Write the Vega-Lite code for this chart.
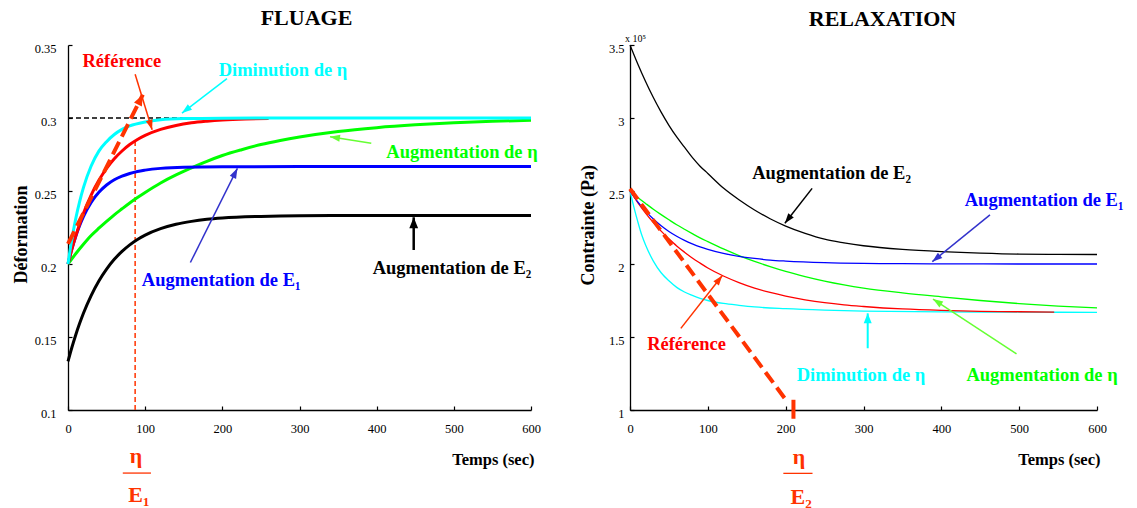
{
  "$schema": "https://vega.github.io/schema/vega-lite/v6.json",
  "background": "white",
  "padding": {"left": 12, "top": 7, "right": 0, "bottom": 0},
  "bounds": "flush",
  "spacing": 99,
  "config": {
    "view": {"stroke": null},
    "font": "Liberation Serif",
    "axis": {"grid": false, "domainColor": "#000000", "domainWidth": 1.3, "tickColor": "#000000", "tickWidth": 1.2, "tickSize": -4, "labelFont": "Liberation Serif", "labelFontSize": 12.5, "labelColor": "#000000", "labelFlush": false, "titleFont": "Liberation Serif", "titleFontWeight": "bold", "titleColor": "#000000"},
    "title": {"font": "Liberation Serif", "fontSize": 22, "fontWeight": "bold", "color": "#000000"},
    "text": {"font": "Liberation Serif", "fontWeight": "bold"}
  },
  "datasets": {
    "creep": [
      {"s": "augE2", "t": 0, "v": 0.1333}, {"s": "augE2", "t": 5, "v": 0.1428}, {"s": "augE2", "t": 10, "v": 0.1514}, {"s": "augE2", "t": 15, "v": 0.1592}, {"s": "augE2", "t": 20, "v": 0.1663}, {"s": "augE2", "t": 30, "v": 0.1784}, {"s": "augE2", "t": 40, "v": 0.1884}, {"s": "augE2", "t": 50, "v": 0.1965}, {"s": "augE2", "t": 60, "v": 0.2032}, {"s": "augE2", "t": 70, "v": 0.2086}, {"s": "augE2", "t": 80, "v": 0.2131}, {"s": "augE2", "t": 90, "v": 0.2168}, {"s": "augE2", "t": 100, "v": 0.2198}, {"s": "augE2", "t": 120, "v": 0.2242}, {"s": "augE2", "t": 140, "v": 0.2272}, {"s": "augE2", "t": 160, "v": 0.2292}, {"s": "augE2", "t": 180, "v": 0.2306}, {"s": "augE2", "t": 200, "v": 0.2315}, {"s": "augE2", "t": 250, "v": 0.2326}, {"s": "augE2", "t": 300, "v": 0.2331}, {"s": "augE2", "t": 400, "v": 0.2333}, {"s": "augE2", "t": 500, "v": 0.2333}, {"s": "augE2", "t": 600, "v": 0.2333},
      {"s": "augEta", "t": 0, "v": 0.2}, {"s": "augEta", "t": 10, "v": 0.207}, {"s": "augEta", "t": 20, "v": 0.2135}, {"s": "augEta", "t": 30, "v": 0.2195}, {"s": "augEta", "t": 40, "v": 0.2245}, {"s": "augEta", "t": 50, "v": 0.2292}, {"s": "augEta", "t": 60, "v": 0.2337}, {"s": "augEta", "t": 70, "v": 0.2378}, {"s": "augEta", "t": 80, "v": 0.2418}, {"s": "augEta", "t": 90, "v": 0.2455}, {"s": "augEta", "t": 100, "v": 0.249}, {"s": "augEta", "t": 120, "v": 0.2555}, {"s": "augEta", "t": 140, "v": 0.261}, {"s": "augEta", "t": 160, "v": 0.2658}, {"s": "augEta", "t": 180, "v": 0.2703}, {"s": "augEta", "t": 200, "v": 0.2743}, {"s": "augEta", "t": 225, "v": 0.2783}, {"s": "augEta", "t": 250, "v": 0.2818}, {"s": "augEta", "t": 275, "v": 0.2846}, {"s": "augEta", "t": 300, "v": 0.287}, {"s": "augEta", "t": 350, "v": 0.2908}, {"s": "augEta", "t": 400, "v": 0.2934}, {"s": "augEta", "t": 450, "v": 0.2953}, {"s": "augEta", "t": 500, "v": 0.2967}, {"s": "augEta", "t": 550, "v": 0.2977}, {"s": "augEta", "t": 600, "v": 0.2985},
      {"s": "augE1", "t": 0, "v": 0.2}, {"s": "augE1", "t": 5, "v": 0.2103}, {"s": "augE1", "t": 10, "v": 0.2189}, {"s": "augE1", "t": 15, "v": 0.2262}, {"s": "augE1", "t": 20, "v": 0.2325}, {"s": "augE1", "t": 30, "v": 0.2422}, {"s": "augE1", "t": 40, "v": 0.2491}, {"s": "augE1", "t": 50, "v": 0.2541}, {"s": "augE1", "t": 60, "v": 0.2577}, {"s": "augE1", "t": 70, "v": 0.2602}, {"s": "augE1", "t": 80, "v": 0.262}, {"s": "augE1", "t": 90, "v": 0.2634}, {"s": "augE1", "t": 100, "v": 0.2643}, {"s": "augE1", "t": 120, "v": 0.2655}, {"s": "augE1", "t": 150, "v": 0.2663}, {"s": "augE1", "t": 200, "v": 0.2666}, {"s": "augE1", "t": 300, "v": 0.2667}, {"s": "augE1", "t": 400, "v": 0.2667}, {"s": "augE1", "t": 500, "v": 0.2667}, {"s": "augE1", "t": 600, "v": 0.2667},
      {"s": "ref", "t": 0, "v": 0.2}, {"s": "ref", "t": 5, "v": 0.2101}, {"s": "ref", "t": 10, "v": 0.2192}, {"s": "ref", "t": 15, "v": 0.2273}, {"s": "ref", "t": 20, "v": 0.2347}, {"s": "ref", "t": 30, "v": 0.2472}, {"s": "ref", "t": 40, "v": 0.2573}, {"s": "ref", "t": 50, "v": 0.2655}, {"s": "ref", "t": 60, "v": 0.2721}, {"s": "ref", "t": 70, "v": 0.2774}, {"s": "ref", "t": 80, "v": 0.2818}, {"s": "ref", "t": 90, "v": 0.2853}, {"s": "ref", "t": 100, "v": 0.2881}, {"s": "ref", "t": 120, "v": 0.2922}, {"s": "ref", "t": 140, "v": 0.2949}, {"s": "ref", "t": 160, "v": 0.2967}, {"s": "ref", "t": 180, "v": 0.2978}, {"s": "ref", "t": 200, "v": 0.2986}, {"s": "ref", "t": 230, "v": 0.2993}, {"s": "ref", "t": 260, "v": 0.2996},
      {"s": "dimEta", "t": 0, "v": 0.2}, {"s": "dimEta", "t": 5, "v": 0.2169}, {"s": "dimEta", "t": 10, "v": 0.231}, {"s": "dimEta", "t": 15, "v": 0.2426}, {"s": "dimEta", "t": 20, "v": 0.2523}, {"s": "dimEta", "t": 30, "v": 0.2671}, {"s": "dimEta", "t": 40, "v": 0.2773}, {"s": "dimEta", "t": 50, "v": 0.2838}, {"s": "dimEta", "t": 60, "v": 0.2887}, {"s": "dimEta", "t": 70, "v": 0.2922}, {"s": "dimEta", "t": 80, "v": 0.2946}, {"s": "dimEta", "t": 100, "v": 0.2973}, {"s": "dimEta", "t": 120, "v": 0.2988}, {"s": "dimEta", "t": 150, "v": 0.2996}, {"s": "dimEta", "t": 200, "v": 0.2999}, {"s": "dimEta", "t": 300, "v": 0.3}, {"s": "dimEta", "t": 400, "v": 0.3}, {"s": "dimEta", "t": 500, "v": 0.3}, {"s": "dimEta", "t": 600, "v": 0.3}
    ],
    "relax": [
      {"s": "augEta", "t": 0, "v": 2.5}, {"s": "augEta", "t": 10, "v": 2.456}, {"s": "augEta", "t": 20, "v": 2.415}, {"s": "augEta", "t": 30, "v": 2.375}, {"s": "augEta", "t": 40, "v": 2.338}, {"s": "augEta", "t": 50, "v": 2.303}, {"s": "augEta", "t": 60, "v": 2.269}, {"s": "augEta", "t": 70, "v": 2.238}, {"s": "augEta", "t": 80, "v": 2.208}, {"s": "augEta", "t": 90, "v": 2.179}, {"s": "augEta", "t": 100, "v": 2.153}, {"s": "augEta", "t": 120, "v": 2.103}, {"s": "augEta", "t": 140, "v": 2.058}, {"s": "augEta", "t": 160, "v": 2.018}, {"s": "augEta", "t": 180, "v": 1.982}, {"s": "augEta", "t": 200, "v": 1.949}, {"s": "augEta", "t": 225, "v": 1.914}, {"s": "augEta", "t": 250, "v": 1.883}, {"s": "augEta", "t": 275, "v": 1.857}, {"s": "augEta", "t": 300, "v": 1.835}, {"s": "augEta", "t": 350, "v": 1.802}, {"s": "augEta", "t": 400, "v": 1.775}, {"s": "augEta", "t": 450, "v": 1.75}, {"s": "augEta", "t": 500, "v": 1.729}, {"s": "augEta", "t": 550, "v": 1.712}, {"s": "augEta", "t": 600, "v": 1.7},
      {"s": "dimEta", "t": 0, "v": 2.5}, {"s": "dimEta", "t": 5, "v": 2.39}, {"s": "dimEta", "t": 10, "v": 2.29}, {"s": "dimEta", "t": 15, "v": 2.2}, {"s": "dimEta", "t": 20, "v": 2.13}, {"s": "dimEta", "t": 30, "v": 2.02}, {"s": "dimEta", "t": 40, "v": 1.94}, {"s": "dimEta", "t": 50, "v": 1.885}, {"s": "dimEta", "t": 60, "v": 1.84}, {"s": "dimEta", "t": 70, "v": 1.808}, {"s": "dimEta", "t": 80, "v": 1.785}, {"s": "dimEta", "t": 90, "v": 1.765}, {"s": "dimEta", "t": 100, "v": 1.75}, {"s": "dimEta", "t": 120, "v": 1.73}, {"s": "dimEta", "t": 140, "v": 1.717}, {"s": "dimEta", "t": 160, "v": 1.706}, {"s": "dimEta", "t": 200, "v": 1.694}, {"s": "dimEta", "t": 250, "v": 1.684}, {"s": "dimEta", "t": 300, "v": 1.677}, {"s": "dimEta", "t": 400, "v": 1.672}, {"s": "dimEta", "t": 500, "v": 1.67}, {"s": "dimEta", "t": 600, "v": 1.669},
      {"s": "ref", "t": 0, "v": 2.5}, {"s": "ref", "t": 10, "v": 2.421}, {"s": "ref", "t": 20, "v": 2.349}, {"s": "ref", "t": 30, "v": 2.284}, {"s": "ref", "t": 40, "v": 2.225}, {"s": "ref", "t": 50, "v": 2.173}, {"s": "ref", "t": 60, "v": 2.124}, {"s": "ref", "t": 70, "v": 2.081}, {"s": "ref", "t": 80, "v": 2.041}, {"s": "ref", "t": 90, "v": 2.006}, {"s": "ref", "t": 100, "v": 1.973}, {"s": "ref", "t": 120, "v": 1.918}, {"s": "ref", "t": 140, "v": 1.873}, {"s": "ref", "t": 160, "v": 1.835}, {"s": "ref", "t": 180, "v": 1.805}, {"s": "ref", "t": 200, "v": 1.78}, {"s": "ref", "t": 225, "v": 1.755}, {"s": "ref", "t": 250, "v": 1.735}, {"s": "ref", "t": 275, "v": 1.72}, {"s": "ref", "t": 300, "v": 1.709}, {"s": "ref", "t": 350, "v": 1.692}, {"s": "ref", "t": 400, "v": 1.682}, {"s": "ref", "t": 450, "v": 1.676}, {"s": "ref", "t": 500, "v": 1.673}, {"s": "ref", "t": 545, "v": 1.671},
      {"s": "augE1", "t": 0, "v": 2.5}, {"s": "augE1", "t": 10, "v": 2.425}, {"s": "augE1", "t": 20, "v": 2.362}, {"s": "augE1", "t": 30, "v": 2.308}, {"s": "augE1", "t": 40, "v": 2.262}, {"s": "augE1", "t": 50, "v": 2.223}, {"s": "augE1", "t": 60, "v": 2.19}, {"s": "augE1", "t": 70, "v": 2.162}, {"s": "augE1", "t": 80, "v": 2.138}, {"s": "augE1", "t": 90, "v": 2.117}, {"s": "augE1", "t": 100, "v": 2.1}, {"s": "augE1", "t": 120, "v": 2.072}, {"s": "augE1", "t": 140, "v": 2.052}, {"s": "augE1", "t": 160, "v": 2.038}, {"s": "augE1", "t": 180, "v": 2.027}, {"s": "augE1", "t": 200, "v": 2.02}, {"s": "augE1", "t": 250, "v": 2.009}, {"s": "augE1", "t": 300, "v": 2.004}, {"s": "augE1", "t": 350, "v": 2.002}, {"s": "augE1", "t": 400, "v": 2.001}, {"s": "augE1", "t": 500, "v": 2.0}, {"s": "augE1", "t": 600, "v": 2.0},
      {"s": "augE2", "t": 0, "v": 3.5}, {"s": "augE2", "t": 10, "v": 3.37}, {"s": "augE2", "t": 20, "v": 3.25}, {"s": "augE2", "t": 30, "v": 3.14}, {"s": "augE2", "t": 40, "v": 3.04}, {"s": "augE2", "t": 50, "v": 2.95}, {"s": "augE2", "t": 60, "v": 2.87}, {"s": "augE2", "t": 70, "v": 2.8}, {"s": "augE2", "t": 80, "v": 2.73}, {"s": "augE2", "t": 90, "v": 2.67}, {"s": "augE2", "t": 100, "v": 2.62}, {"s": "augE2", "t": 120, "v": 2.52}, {"s": "augE2", "t": 140, "v": 2.44}, {"s": "augE2", "t": 160, "v": 2.37}, {"s": "augE2", "t": 180, "v": 2.31}, {"s": "augE2", "t": 200, "v": 2.26}, {"s": "augE2", "t": 225, "v": 2.21}, {"s": "augE2", "t": 250, "v": 2.17}, {"s": "augE2", "t": 275, "v": 2.145}, {"s": "augE2", "t": 300, "v": 2.125}, {"s": "augE2", "t": 350, "v": 2.1}, {"s": "augE2", "t": 400, "v": 2.085}, {"s": "augE2", "t": 450, "v": 2.075}, {"s": "augE2", "t": 500, "v": 2.068}, {"s": "augE2", "t": 550, "v": 2.066}, {"s": "augE2", "t": 600, "v": 2.065}
    ],
    "labelsL": [
      {"s": "ref", "label": "Référence", "t": 69.8, "v": 0.339},
      {"s": "dimEta", "label": "Diminution de η", "t": 278.6, "v": 0.3329},
      {"s": "augEta", "label": "Augmentation de η", "t": 510.6, "v": 0.2767},
      {"s": "augE1", "label": "Augmentation de E₁", "t": 198.5, "v": 0.189},
      {"s": "augE2", "label": "Augmentation de E₂", "t": 497.6, "v": 0.1973}
    ],
    "labelsR": [
      {"s": "augE2", "label": "Augmentation de E₂", "t": 259, "v": 2.621},
      {"s": "augE1", "label": "Augmentation de E₁", "t": 532, "v": 2.438},
      {"s": "ref", "label": "Référence", "t": 72.6, "v": 1.454},
      {"s": "dimEta", "label": "Diminution de η", "t": 296.8, "v": 1.24},
      {"s": "augEta", "label": "Augmentation de η", "t": 529.4, "v": 1.24}
    ]
  },
  "hconcat": [
    {
      "width": 463,
      "height": 365,
      "title": {"text": "FLUAGE", "frame": "group", "dx": 7, "offset": -5, "baseline": "alphabetic"},
      "encoding": {
        "x": {"field": "t", "type": "quantitative", "scale": {"domain": [0, 600], "nice": false, "zero": false},
          "axis": {"title": "Temps (sec)", "values": [0, 100, 200, 300, 400, 500, 600], "format": "d", "labelPadding": 16, "titleFontSize": 16.5, "titleAlign": "right", "titleAnchor": "end", "titleX": 466, "titleY": 49, "titleBaseline": "middle", "titleAngle": 0}},
        "y": {"field": "v", "type": "quantitative", "scale": {"domain": [0.1, 0.35], "nice": false, "zero": false},
          "axis": {"title": "Déformation", "values": [0.1, 0.15, 0.2, 0.25, 0.3, 0.35], "format": "~g", "labelPadding": 16, "labelOffset": 3, "titleFontSize": 18, "titleAngle": 270, "titleAlign": "left", "titleBaseline": "alphabetic", "titleX": -42, "titleY": 238}}
      },
      "layer": [
        {"data": {"values": [{"t": 87, "v": 0.1, "v2": 0.2835}]}, "mark": {"type": "rule", "color": "#FF3300", "strokeWidth": 1.5, "strokeDash": [5, 3]}, "encoding": {"y2": {"field": "v2"}}},
        {"data": {"values": [{"t": 0, "v": 0.3, "t2": 258}]}, "mark": {"type": "rule", "color": "#000000", "strokeWidth": 1.3, "strokeDash": [5, 3]}, "encoding": {"x2": {"field": "t2"}}},
        {"data": {"name": "creep"}, "mark": {"type": "line", "strokeWidth": 3, "interpolate": "monotone"},
          "encoding": {"color": {"field": "s", "type": "nominal", "scale": {"domain": ["ref", "dimEta", "augEta", "augE1", "augE2"], "range": ["#FF0000", "#00FFFF", "#00FF00", "#0000FF", "#000000"]}, "legend": null}}},
        {"data": {"values": [{"t": 0, "v": 0.2138, "t2": 97, "v2": 0.316}]}, "layer": [
          {"mark": {"type": "rule", "color": "#FF3300", "strokeWidth": 4, "strokeDash": [14, 6]}, "encoding": {"x2": {"field": "t2"}, "y2": {"field": "v2"}}},
          {"mark": {"type": "point", "shape": "M0,0L0.4,1L-0.4,1Z", "size": 484, "filled": true, "opacity": 1, "color": "#FF3300", "angle": 26.6}, "encoding": {"x": {"field": "t2", "type": "quantitative"}, "y": {"field": "v2", "type": "quantitative"}}}
        ]},
        {"data": {"values": [{"t": 87, "v": 0.33, "t2": 109, "v2": 0.292}]}, "layer": [
          {"mark": {"type": "rule", "color": "#FF3300", "strokeWidth": 1.5}, "encoding": {"x2": {"field": "t2"}, "y2": {"field": "v2"}}},
          {"mark": {"type": "point", "shape": "M0,0L0.35,1L-0.35,1Z", "size": 400, "filled": true, "opacity": 1, "color": "#FF3300", "angle": 163}, "encoding": {"x": {"field": "t2", "type": "quantitative"}, "y": {"field": "v2", "type": "quantitative"}}}
        ]},
        {"data": {"values": [{"t": 206, "v": 0.327, "t2": 147.7, "v2": 0.3034}]}, "layer": [
          {"mark": {"type": "rule", "color": "#00FFFF", "strokeWidth": 1.5}, "encoding": {"x2": {"field": "t2"}, "y2": {"field": "v2"}}},
          {"mark": {"type": "point", "shape": "M0,0L0.35,1L-0.35,1Z", "size": 400, "filled": true, "opacity": 1, "color": "#00FFFF", "angle": 232.6}, "encoding": {"x": {"field": "t2", "type": "quantitative"}, "y": {"field": "v2", "type": "quantitative"}}}
        ]},
        {"data": {"values": [{"t": 393, "v": 0.2827, "t2": 339.5, "v2": 0.2872}]}, "layer": [
          {"mark": {"type": "rule", "color": "#66FF33", "strokeWidth": 1.5}, "encoding": {"x2": {"field": "t2"}, "y2": {"field": "v2"}}},
          {"mark": {"type": "point", "shape": "M0,0L0.35,1L-0.35,1Z", "size": 400, "filled": true, "opacity": 1, "color": "#66FF33", "angle": 279}, "encoding": {"x": {"field": "t2", "type": "quantitative"}, "y": {"field": "v2", "type": "quantitative"}}}
        ]},
        {"data": {"values": [{"t": 158.6, "v": 0.201, "t2": 219.5, "v2": 0.2655}]}, "layer": [
          {"mark": {"type": "rule", "color": "#3333CC", "strokeWidth": 1.5}, "encoding": {"x2": {"field": "t2"}, "y2": {"field": "v2"}}},
          {"mark": {"type": "point", "shape": "M0,0L0.35,1L-0.35,1Z", "size": 400, "filled": true, "opacity": 1, "color": "#3333CC", "angle": 26.5}, "encoding": {"x": {"field": "t2", "type": "quantitative"}, "y": {"field": "v2", "type": "quantitative"}}}
        ]},
        {"data": {"values": [{"t": 448, "v": 0.2096, "t2": 448, "v2": 0.232}]}, "layer": [
          {"mark": {"type": "rule", "color": "#000000", "strokeWidth": 2.5}, "encoding": {"x2": {"field": "t2"}, "y2": {"field": "v2"}}},
          {"mark": {"type": "point", "shape": "M0,0L0.4,1L-0.4,1Z", "size": 484, "filled": true, "opacity": 1, "color": "#000000", "angle": 0}, "encoding": {"x": {"field": "t2", "type": "quantitative"}, "y": {"field": "v2", "type": "quantitative"}}}
        ]},
        {"data": {"name": "labelsL"}, "mark": {"type": "text", "fontSize": 18.5, "fontWeight": "bold", "align": "center", "baseline": "middle"},
          "encoding": {"text": {"field": "label"}, "color": {"field": "s", "type": "nominal", "scale": {"domain": ["ref", "dimEta", "augEta", "augE1", "augE2"], "range": ["#FF0000", "#00FFFF", "#00FF00", "#0000FF", "#000000"]}, "legend": null}}},
        {"data": {"values": [{"t": 88, "v": 0.0685, "label": "η"}, {"t": 92, "v": 0.0418, "label": "E₁"}]}, "mark": {"type": "text", "fontSize": 22, "fontWeight": "bold", "color": "#FF3300", "align": "center", "baseline": "middle"}, "encoding": {"text": {"field": "label"}}},
        {"data": {"values": [{"t": 71, "v": 0.0568, "t2": 107.5}]}, "mark": {"type": "rule", "color": "#FF3300", "strokeWidth": 1.3}, "encoding": {"x2": {"field": "t2"}}}
      ]
    },
    {
      "width": 467,
      "height": 365,
      "title": {"text": "RELAXATION", "frame": "group", "dx": 19, "offset": -14, "baseline": "alphabetic"},
      "encoding": {
        "x": {"field": "t", "type": "quantitative", "scale": {"domain": [0, 600], "nice": false, "zero": false},
          "axis": {"title": "Temps (sec)", "values": [0, 100, 200, 300, 400, 500, 600], "format": "d", "labelPadding": 16, "titleFontSize": 16.5, "titleAlign": "right", "titleAnchor": "end", "titleX": 470, "titleY": 49, "titleBaseline": "middle", "titleAngle": 0}},
        "y": {"field": "v", "type": "quantitative", "scale": {"domain": [1, 3.5], "nice": false, "zero": false},
          "axis": {"title": "Contrainte (Pa)", "values": [1, 1.5, 2, 2.5, 3, 3.5], "format": "~g", "labelPadding": 10, "labelOffset": 3, "titleFontSize": 18, "titleAngle": 270, "titleAlign": "left", "titleBaseline": "alphabetic", "titleX": -37, "titleY": 240}}
      },
      "layer": [
        {"data": {"name": "relax"}, "mark": {"type": "line", "strokeWidth": 1.3, "interpolate": "monotone"},
          "encoding": {"color": {"field": "s", "type": "nominal", "scale": {"domain": ["ref", "dimEta", "augEta", "augE1", "augE2"], "range": ["#FF0000", "#00FFFF", "#00FF00", "#0000FF", "#000000"]}, "legend": null}}},
        {"data": {"values": [{"t": 0, "v": 2.515, "t2": 203, "v2": 1.05}]}, "mark": {"type": "rule", "color": "#FF3300", "strokeWidth": 4, "strokeDash": [13, 6]}, "encoding": {"x2": {"field": "t2"}, "y2": {"field": "v2"}}},
        {"data": {"values": [{"t": 210, "v": 0.94, "v2": 1.07}]}, "mark": {"type": "rule", "color": "#FF3300", "strokeWidth": 4}, "encoding": {"y2": {"field": "v2"}}},
        {"data": {"values": [{"t": 234, "v": 2.518, "t2": 199, "v2": 2.279}]}, "layer": [
          {"mark": {"type": "rule", "color": "#000000", "strokeWidth": 1.5}, "encoding": {"x2": {"field": "t2"}, "y2": {"field": "v2"}}},
          {"mark": {"type": "point", "shape": "M0,0L0.35,1L-0.35,1Z", "size": 400, "filled": true, "opacity": 1, "color": "#000000", "angle": 217.9}, "encoding": {"x": {"field": "t2", "type": "quantitative"}, "y": {"field": "v2", "type": "quantitative"}}}
        ]},
        {"data": {"values": [{"t": 462.5, "v": 2.336, "t2": 388.4, "v2": 2.016}]}, "layer": [
          {"mark": {"type": "rule", "color": "#3333CC", "strokeWidth": 1.5}, "encoding": {"x2": {"field": "t2"}, "y2": {"field": "v2"}}},
          {"mark": {"type": "point", "shape": "M0,0L0.35,1L-0.35,1Z", "size": 400, "filled": true, "opacity": 1, "color": "#3333CC", "angle": 231.1}, "encoding": {"x": {"field": "t2", "type": "quantitative"}, "y": {"field": "v2", "type": "quantitative"}}}
        ]},
        {"data": {"values": [{"t": 65.3, "v": 1.559, "t2": 118.6, "v2": 1.921}]}, "layer": [
          {"mark": {"type": "rule", "color": "#FF3300", "strokeWidth": 1.5}, "encoding": {"x2": {"field": "t2"}, "y2": {"field": "v2"}}},
          {"mark": {"type": "point", "shape": "M0,0L0.35,1L-0.35,1Z", "size": 400, "filled": true, "opacity": 1, "color": "#FF3300", "angle": 38.1}, "encoding": {"x": {"field": "t2", "type": "quantitative"}, "y": {"field": "v2", "type": "quantitative"}}}
        ]},
        {"data": {"values": [{"t": 305.4, "v": 1.423, "t2": 305.4, "v2": 1.662}]}, "layer": [
          {"mark": {"type": "rule", "color": "#00FFFF", "strokeWidth": 2}, "encoding": {"x2": {"field": "t2"}, "y2": {"field": "v2"}}},
          {"mark": {"type": "point", "shape": "M0,0L0.4,1L-0.4,1Z", "size": 400, "filled": true, "opacity": 1, "color": "#00FFFF", "angle": 0}, "encoding": {"x": {"field": "t2", "type": "quantitative"}, "y": {"field": "v2", "type": "quantitative"}}}
        ]},
        {"data": {"values": [{"t": 496.6, "v": 1.384, "t2": 389.3, "v2": 1.76}]}, "layer": [
          {"mark": {"type": "rule", "color": "#66FF33", "strokeWidth": 1.5}, "encoding": {"x2": {"field": "t2"}, "y2": {"field": "v2"}}},
          {"mark": {"type": "point", "shape": "M0,0L0.35,1L-0.35,1Z", "size": 400, "filled": true, "opacity": 1, "color": "#66FF33", "angle": 303.3}, "encoding": {"x": {"field": "t2", "type": "quantitative"}, "y": {"field": "v2", "type": "quantitative"}}}
        ]},
        {"data": {"name": "labelsR"}, "mark": {"type": "text", "fontSize": 18.5, "fontWeight": "bold", "align": "center", "baseline": "middle"},
          "encoding": {"text": {"field": "label"}, "color": {"field": "s", "type": "nominal", "scale": {"domain": ["ref", "dimEta", "augEta", "augE1", "augE2"], "range": ["#FF0000", "#00FFFF", "#00FF00", "#0000FF", "#000000"]}, "legend": null}}},
        {"data": {"values": [{"t": 217, "v": 0.68, "label": "η"}, {"t": 220, "v": 0.406, "label": "E₂"}]}, "mark": {"type": "text", "fontSize": 22, "fontWeight": "bold", "color": "#FF3300", "align": "center", "baseline": "middle"}, "encoding": {"text": {"field": "label"}}},
        {"data": {"values": [{"t": 197, "v": 0.566, "t2": 234.5}]}, "mark": {"type": "rule", "color": "#FF3300", "strokeWidth": 1.3}, "encoding": {"x2": {"field": "t2"}}},
        {"data": {"values": [{"t": -6.4, "v": 3.52, "label": "x 10⁵"}]}, "mark": {"type": "text", "fontSize": 10, "fontWeight": "normal", "color": "#000000", "align": "left", "baseline": "alphabetic"}, "encoding": {"text": {"field": "label"}}}
      ]
    }
  ]
}
